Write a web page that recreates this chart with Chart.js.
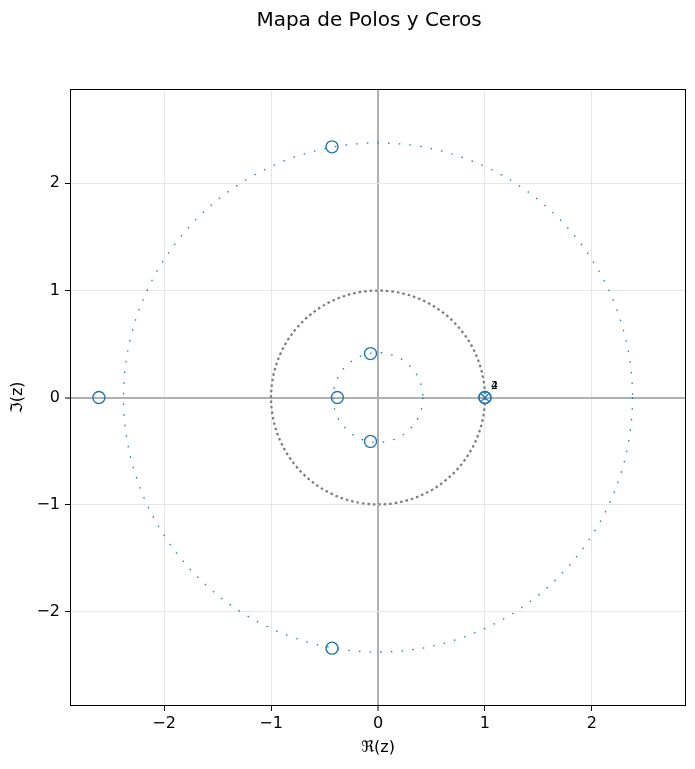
<!DOCTYPE html>
<html lang="es">
<head>
    <meta charset="UTF-8">
    <title>Mapa de Polos y Ceros</title>
    <script src="https://cdn.jsdelivr.net/npm/chart.js"></script>
    <style>
        body { margin: 0; background: #fff; }
    </style>
</head>
<body>
    <canvas id="pzChart" width="695" height="769"></canvas>
    <script>
        // datos
        const zerosRe = [-0.43, -0.43, -2.61, -0.38, -0.07, -0.07, 1, 1];
        const zerosIm = [2.34, -2.34, 0, 0, 0.41, -0.41, 0, 0];
        const polesRe = [1];
        const polesIm = [0];
        const ringRadii = [2.38, 0.42];   // circulos punteados azules
        const unitRadius = [1];           // circulo unitario
        const multRe = [1, 1];
        const multIm = [0, 0];
        const multText = ['2', '4'];
        const xTicks = [-2, -1, 0, 1, 2];
        const yTicks = [-2, -1, 0, 1, 2];
        const titleText = 'Mapa de Polos y Ceros';

        const fontFamily = '"DejaVu Sans", sans-serif';
        const blue = '#1f77b4';

        function fmt(v) {
            return v < 0 ? '\u2212' + Math.abs(v) : String(v);
        }

        function gridColor(ctx) {
            return ctx.tick && ctx.tick.value === 0 ? '#b0b0b0' : '#e6e6e6';
        }
        function gridWidth(ctx) {
            return ctx.tick && ctx.tick.value === 0 ? 2 : 1;
        }

        const circlesPlugin = {
            id: 'circles',
            beforeDatasetsDraw(chart) {
                const { ctx, scales: { x, y } } = chart;
                const cx = x.getPixelForValue(0);
                const cy = y.getPixelForValue(0);
                ctx.save();
                ctx.beginPath();
                ctx.rect(chart.chartArea.left, chart.chartArea.top, chart.chartArea.width, chart.chartArea.height);
                ctx.clip();
                // circulo unitario gris
                unitRadius.forEach(r => {
                    const rp = x.getPixelForValue(r) - cx;
                    ctx.beginPath();
                    ctx.setLineDash([2.5, 3]);
                    ctx.strokeStyle = '#7a7a7a';
                    ctx.lineWidth = 2.2;
                    ctx.arc(cx, cy, rp, 0, Math.PI * 2);
                    ctx.stroke();
                });
                // anillos azules
                ringRadii.forEach(r => {
                    const rp = x.getPixelForValue(r) - cx;
                    ctx.beginPath();
                    ctx.setLineDash([1.5, 9.2]);
                    ctx.strokeStyle = blue;
                    ctx.lineWidth = 1.3;
                    ctx.arc(cx, cy, rp, 0, Math.PI * 2);
                    ctx.stroke();
                });
                ctx.restore();
            },
            afterDatasetsDraw(chart) {
                const { ctx, scales: { x, y } } = chart;
                ctx.save();
                ctx.fillStyle = '#000';
                ctx.font = '11px ' + fontFamily;
                ctx.textAlign = 'left';
                ctx.textBaseline = 'alphabetic';
                multText.forEach((t, i) => {
                    ctx.fillText(t, x.getPixelForValue(multRe[i]) + 6, y.getPixelForValue(multIm[i]) - 9);
                });
                ctx.restore();
            },
            afterDraw(chart) {
                const { ctx, chartArea: a } = chart;
                ctx.save();
                ctx.strokeStyle = '#000';
                ctx.lineWidth = 1;
                ctx.strokeRect(a.left + 0.5, a.top + 0.5, a.width - 1, a.height - 1);
                // titulo de la figura
                ctx.fillStyle = '#000';
                ctx.font = '20px ' + fontFamily;
                ctx.textAlign = 'center';
                ctx.textBaseline = 'alphabetic';
                ctx.fillText(titleText, 369, 26);
                ctx.restore();
            }
        };

        new Chart(document.getElementById('pzChart'), {
            type: 'scatter',
            data: {
                datasets: [{
                    label: 'Ceros',
                    data: zerosRe.map((v, i) => ({ x: v, y: zerosIm[i] })),
                    pointStyle: 'circle',
                    pointRadius: 6,
                    borderColor: blue,
                    backgroundColor: 'rgba(0,0,0,0)',
                    borderWidth: 1.4
                }, {
                    label: 'Polos',
                    data: polesRe.map((v, i) => ({ x: v, y: polesIm[i] })),
                    pointStyle: 'crossRot',
                    pointRadius: 5,
                    borderColor: blue,
                    borderWidth: 1.2
                }]
            },
            options: {
                responsive: false,
                animation: false,
                layout: { padding: { top: 89, right: 9 } },
                plugins: {
                    legend: { display: false },
                    tooltip: { enabled: false },
                    title: { display: false }
                },
                scales: {
                    x: {
                        type: 'linear',
                        min: -2.88,
                        max: 2.88,
                        afterBuildTicks: s => { s.ticks = xTicks.map(v => ({ value: v })); },
                        afterFit: s => { s.height = 63; },
                        border: { display: false },
                        grid: { color: gridColor, lineWidth: gridWidth, tickColor: '#000', tickWidth: 1, tickLength: 5 },
                        ticks: {
                            color: '#000',
                            padding: 3,
                            font: { family: fontFamily, size: 16 },
                            callback: v => fmt(v)
                        },
                        title: {
                            display: true,
                            text: '\u211C(z)',
                            color: '#000',
                            font: { family: fontFamily, size: 16 },
                            padding: { top: 0, bottom: 11.4 }
                        }
                    },
                    y: {
                        type: 'linear',
                        min: -2.88,
                        max: 2.88,
                        afterBuildTicks: s => { s.ticks = yTicks.map(v => ({ value: v })); },
                        afterFit: s => { s.width = 70; },
                        border: { display: false },
                        grid: { color: gridColor, lineWidth: gridWidth, tickColor: '#000', tickWidth: 1, tickLength: 5 },
                        ticks: {
                            color: '#000',
                            padding: 5,
                            font: { family: fontFamily, size: 16 },
                            callback: v => fmt(v)
                        },
                        title: {
                            display: true,
                            text: '\u2111(z)',
                            color: '#000',
                            font: { family: fontFamily, size: 16 },
                            padding: { top: 8.4, bottom: 0 }
                        }
                    }
                }
            },
            plugins: [circlesPlugin]
        });
    </script>
</body>
</html>
